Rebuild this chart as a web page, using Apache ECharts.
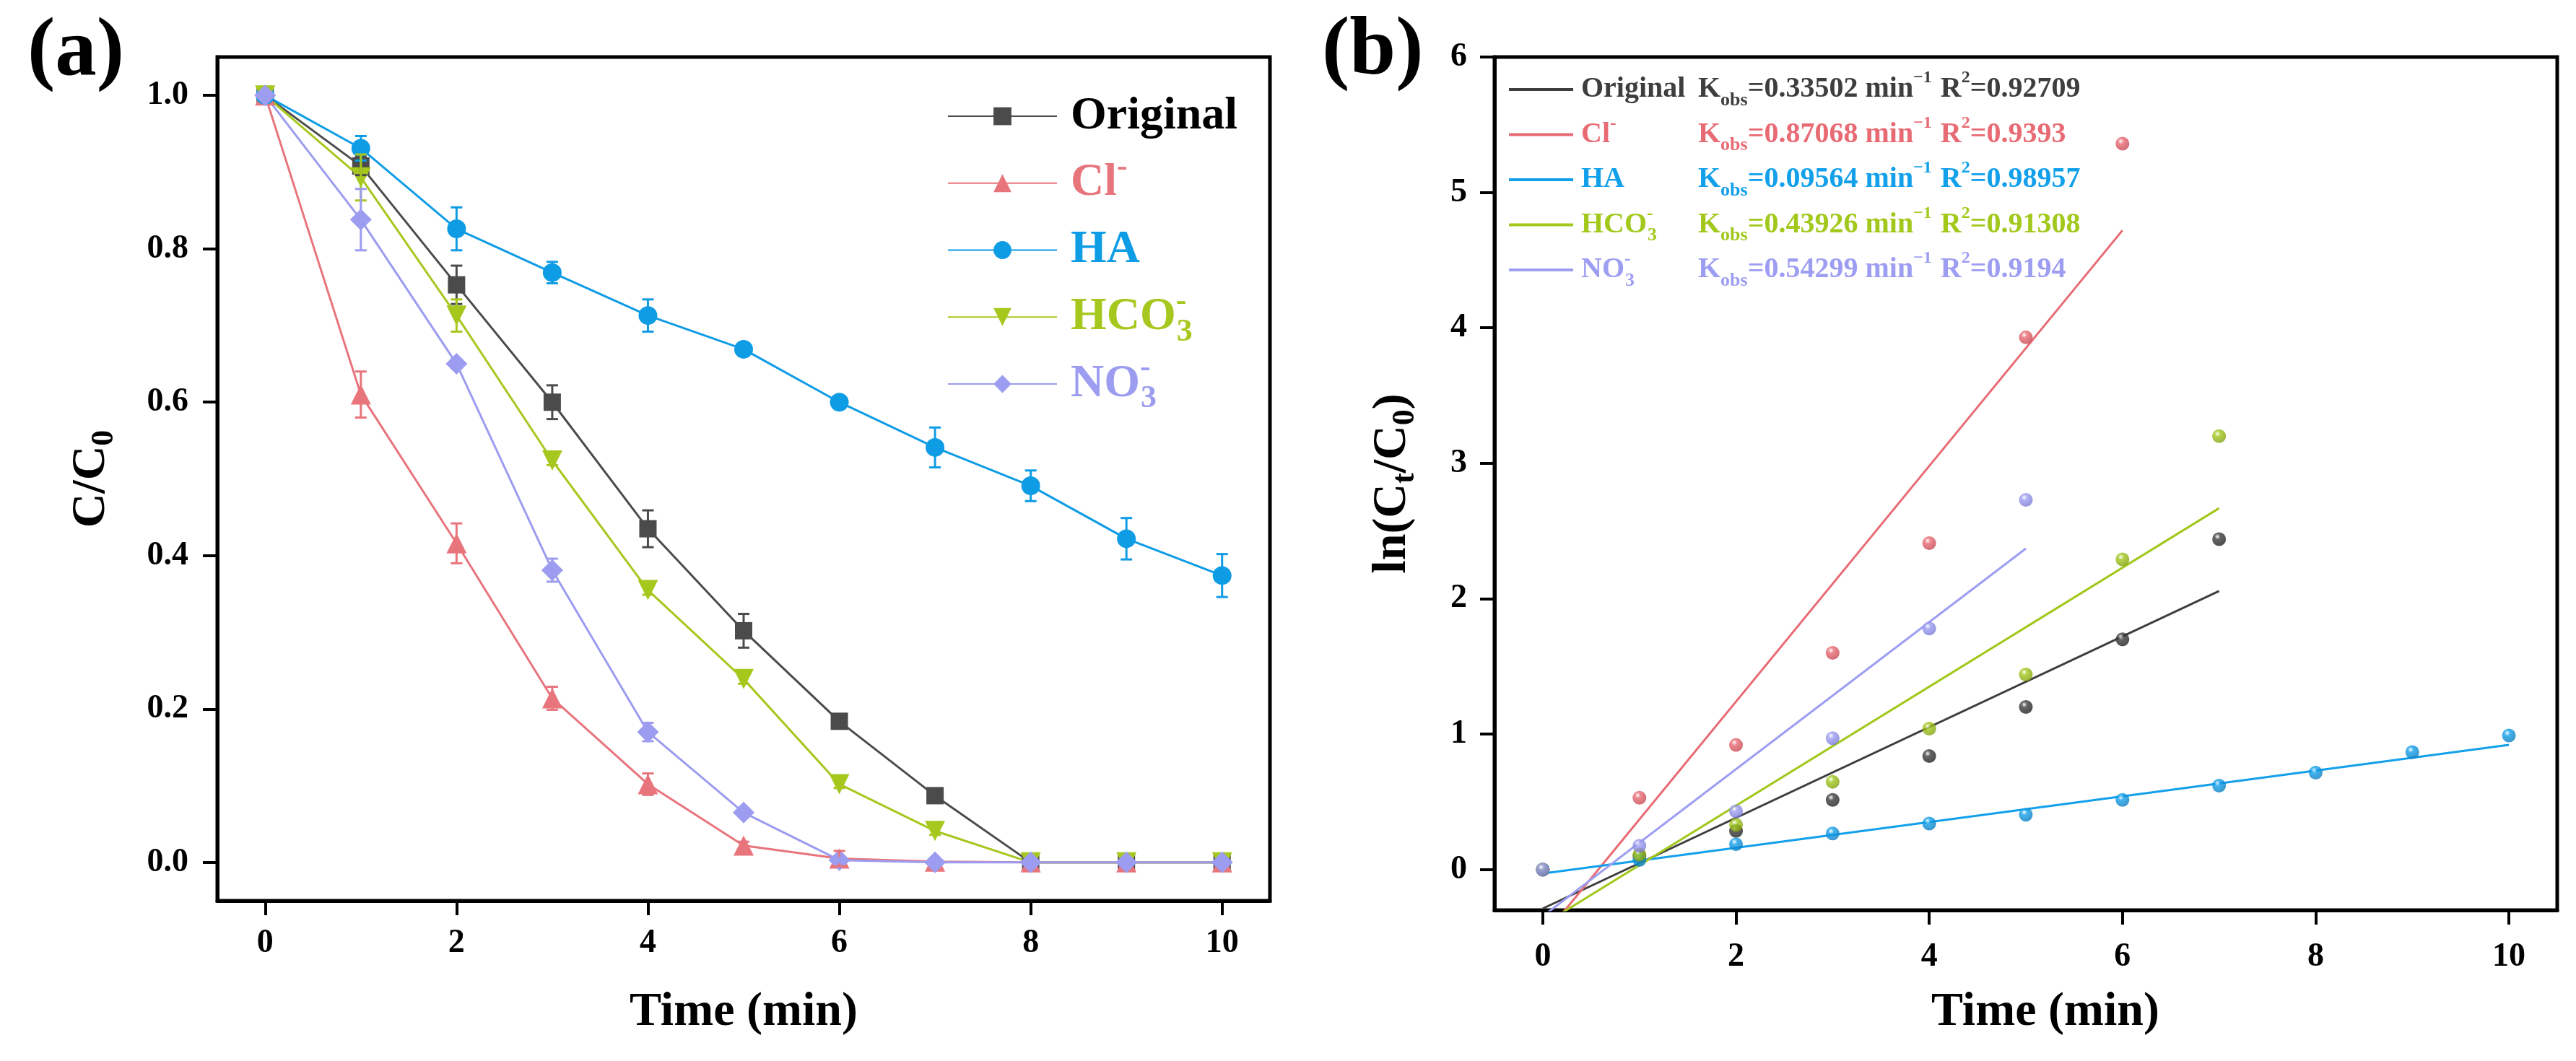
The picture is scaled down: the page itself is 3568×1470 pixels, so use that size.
<!DOCTYPE html>
<html>
<head>
<meta charset="utf-8">
<script src="https://cdn.jsdelivr.net/npm/echarts@6/dist/echarts.min.js"></script>
<style>
html,body{margin:0;padding:0;background:#fff;}
#chart{width:3568px;height:1470px;}
</style>
</head>
<body>
<div id="chart"></div>
<script>
// ---------------- DATA ----------------
// Panel (a): C/C0 vs time
const timeA = [0, 1, 2, 3, 4, 5, 6, 7, 8, 9, 10];
const originalA = [1.0, 0.908, 0.753, 0.600, 0.435, 0.302, 0.184, 0.087, 0, 0, 0];
const originalErr = [0, 0.012, 0.025, 0.022, 0.024, 0.022, 0.006, 0.006, 0, 0, 0];
const clA = [1.0, 0.610, 0.416, 0.214, 0.102, 0.022, 0.005, 0.001, 0, 0, 0];
const clErr = [0, 0.030, 0.026, 0.015, 0.014, 0.005, 0.010, 0, 0, 0, 0];
const haA = [1.0, 0.931, 0.826, 0.769, 0.713, 0.669, 0.600, 0.541, 0.491, 0.422, 0.374];
const haErr = [0, 0.016, 0.028, 0.014, 0.021, 0.005, 0.005, 0.026, 0.020, 0.027, 0.028];
const hco3A = [1.0, 0.893, 0.713, 0.524, 0.355, 0.239, 0.102, 0.041, 0, 0, 0];
const hco3Err = [0, 0.030, 0.021, 0.006, 0.006, 0.006, 0.005, 0.005, 0, 0, 0];
const no3A = [1.0, 0.838, 0.650, 0.381, 0.170, 0.065, 0.003, 0, 0, 0, 0];
const no3Err = [0, 0.040, 0.006, 0.015, 0.012, 0.006, 0.003, 0, 0, 0, 0];

// Panel (b): ln(C0/Ct) points
const timeB = [0, 1, 2, 3, 4, 5, 6, 7, 8, 9, 10];
const originalB = [0, 0.10, 0.285, 0.514, 0.838, 1.20, 1.70, 2.44];
const clB = [0, 0.53, 0.92, 1.60, 2.41, 3.93, 5.36];
const haB = [0, 0.07, 0.187, 0.266, 0.34, 0.405, 0.514, 0.619, 0.715, 0.867, 0.99];
const hco3B = [0, 0.11, 0.33, 0.648, 1.04, 1.44, 2.29, 3.20];
const no3B = [0, 0.176, 0.43, 0.97, 1.78, 2.73];

// Fitted lines: [[xStart, yStart], [xEnd, yEnd]]
const fitOriginal = [[0, -0.288], [7, 2.057]];
const fitCl = [[0, -0.50], [6, 4.72]];
const fitHA = [[0, -0.03], [10, 0.92]];
const fitHCO3 = [[0, -0.407], [7, 2.668]];
const fitNO3 = [[0, -0.345], [5, 2.37]];

// Fit results
const kObs = ['0.33502', '0.87068', '0.09564', '0.43926', '0.54299'];
const r2 = ['0.92709', '0.9393', '0.98957', '0.91308', '0.9194'];

// Ticks
const xTicks = [0, 2, 4, 6, 8, 10];
const yTicksA = [0, 0.2, 0.4, 0.6, 0.8, 1.0];
const yTicksB = [0, 1, 2, 3, 4, 5, 6];

// ---------------- STYLE ----------------
const FONT = "'Liberation Serif','Times New Roman',serif";
const namesA = ['Original', 'Cl-', 'HA', 'HCO3-', 'NO3-'];
const colorsA = ['#4B4B4B', '#E8747C', '#0E9CE5', '#A6C81E', '#9C9CF0'];
const textColorsA = ['#000000', '#E8747C', '#0E9CE5', '#A6C81E', '#9C9CF0'];
const symbolsA = ['rect', 'triangle', 'circle', 'triangle', 'diamond'];
const symbolSizesA = [24, 28, 26, 28, 30];
const rotatesA = [0, 0, 0, 180, 0];
const valsA = [originalA, clA, haA, hco3A, no3A];
const errsA = [originalErr, clErr, haErr, hco3Err, no3Err];

const namesB = ['fitOriginal', 'fitCl', 'fitHA', 'fitHCO3', 'fitNO3'];
const colorsB = ['#3E3E3E', '#E86B74', '#12A0EA', '#A2C81C', '#9D9DF2'];
const darkB = ['#1E1E1E', '#C4434D', '#0A78BA', '#7F9E0C', '#7676D2'];
const ptsB = [originalB, clB, haB, hco3B, no3B];
const fitsB = [fitOriginal, fitCl, fitHA, fitHCO3, fitNO3];

const legendLabelA = {
  'Original': '{p| }{f|Original}',
  'Cl-': '{p| }{f|Cl}{sup|-}',
  'HA': '{p| }{f|HA}',
  'HCO3-': '{p| }{f|HCO}{supz|-}{sub|3}',
  'NO3-': '{p| }{f|NO}{supz|-}{sub|3}'
};
const legendNameB = {
  'fitOriginal': '{p| }{f|Original}',
  'fitCl': '{p| }{f|Cl}{sup|-}',
  'fitHA': '{p| }{f|HA}',
  'fitHCO3': '{p| }{f|HCO}{supz|-}{sub|3}',
  'fitNO3': '{p| }{f|NO}{supz|-}{sub|3}'
};
function legendKText(name) {
  const i = namesB.indexOf(name);
  return '{p| }{m|K}{sub|obs}{m|=' + kObs[i] + ' min}{sup|\u22121}{sp| }{m|R}{sup|2}{m|=' + r2[i] + '}';
}

const chart = echarts.init(document.getElementById('chart'), null, {renderer: 'canvas'});

const axisCommon = {
  type: 'value',
  axisLine: {show: true, onZero: false, lineStyle: {color: '#000', width: 5}},
  axisTick: {show: true, inside: false, length: 20, lineStyle: {color: '#000', width: 4}},
  splitLine: {show: false},
  nameLocation: 'middle'
};
const labelStyle = {fontFamily: FONT, fontSize: 46, fontWeight: 'bold', color: '#000'};
const nameStyle = {
  fontFamily: FONT, fontSize: 66, fontWeight: 'bold', color: '#000',
  rich: {
    m: {fontFamily: FONT, fontSize: 66, fontWeight: 'bold', color: '#000', lineHeight: 80, verticalAlign: 'middle'},
    s: {fontFamily: FONT, fontSize: 44, fontWeight: 'bold', color: '#000', lineHeight: 36, verticalAlign: 'bottom'}
  }
};

const series = [];
// Panel (a) lines
namesA.forEach((n, k) => {
  series.push({
    name: n, type: 'line', xAxisIndex: 0, yAxisIndex: 0,
    data: timeA.map((t, i) => [t, valsA[k][i]]),
    symbol: symbolsA[k], symbolSize: symbolSizesA[k], symbolRotate: rotatesA[k],
    showSymbol: true,
    itemStyle: {color: colorsA[k]},
    lineStyle: {color: colorsA[k], width: 3},
    z: 3
  });
});
// Panel (a) error bars
namesA.forEach((n, k) => {
  const col = colorsA[k];
  series.push({
    name: 'err' + n, type: 'custom', xAxisIndex: 0, yAxisIndex: 0,
    data: timeA.map((t, i) => [t, valsA[k][i] - errsA[k][i], valsA[k][i] + errsA[k][i]]),
    z: 4,
    renderItem: function (params, api) {
      const x = api.value(0), lo = api.value(1), hi = api.value(2);
      if (hi - lo <= 0.0001) return null;
      const p1 = api.coord([x, hi]);
      const p2 = api.coord([x, lo]);
      const w = 8;
      const st = {stroke: col, lineWidth: 3};
      return {
        type: 'group', children: [
          {type: 'line', shape: {x1: p1[0], y1: p1[1], x2: p2[0], y2: p2[1]}, style: st},
          {type: 'line', shape: {x1: p1[0] - w, y1: p1[1], x2: p1[0] + w, y2: p1[1]}, style: st},
          {type: 'line', shape: {x1: p2[0] - w, y1: p2[1], x2: p2[0] + w, y2: p2[1]}, style: st}
        ]
      };
    }
  });
});
// Panel (b) fitted lines
namesB.forEach((n, k) => {
  series.push({
    name: n, type: 'line', xAxisIndex: 1, yAxisIndex: 1,
    data: fitsB[k], showSymbol: false, symbol: 'none', clip: true,
    itemStyle: {color: colorsB[k]},
    lineStyle: {color: colorsB[k], width: 3},
    z: 2
  });
});
// Panel (b) points
namesB.forEach((n, k) => {
  series.push({
    name: 'pts' + n, type: 'scatter', xAxisIndex: 1, yAxisIndex: 1,
    data: ptsB[k].map((v, i) => [timeB[i], v]),
    symbol: 'circle', symbolSize: 19,
    itemStyle: {
      color: new echarts.graphic.RadialGradient(0.38, 0.32, 0.75, [
        {offset: 0, color: '#ffffff'},
        {offset: 0.28, color: colorsB[k]},
        {offset: 1, color: darkB[k]}
      ])
    },
    z: 5
  });
});

const option = {
  animation: false,
  backgroundColor: '#ffffff',
  title: [
    {text: '(a)', left: 33, top: 11, textStyle: {fontFamily: FONT, fontSize: 115, fontWeight: 'bold', color: '#000'}},
    {text: '(b)', left: 1826, top: 10, textStyle: {fontFamily: FONT, fontSize: 115, fontWeight: 'bold', color: '#000'}}
  ],
  grid: [
    {left: 301, top: 79, width: 1458, height: 1169, show: true, borderColor: '#000', borderWidth: 5, backgroundColor: 'transparent'},
    {left: 2070, top: 79, width: 1472, height: 1182, show: true, borderColor: '#000', borderWidth: 5, backgroundColor: 'transparent'}
  ],
  xAxis: [
    Object.assign({}, axisCommon, {
      gridIndex: 0, min: -0.5, max: 10.5,
      name: 'Time (min)', nameGap: 122,
      nameTextStyle: {fontFamily: FONT, fontSize: 66, fontWeight: 'bold', color: '#000'},
      axisTick: Object.assign({}, axisCommon.axisTick, {customValues: xTicks}),
      axisLabel: Object.assign({}, labelStyle, {customValues: xTicks, margin: 36})
    }),
    Object.assign({}, axisCommon, {
      gridIndex: 1, min: -0.5, max: 10.5,
      name: 'Time (min)', nameGap: 109,
      nameTextStyle: {fontFamily: FONT, fontSize: 66, fontWeight: 'bold', color: '#000', padding: [0, 0, 0, 54]},
      axisTick: Object.assign({}, axisCommon.axisTick, {customValues: xTicks}),
      axisLabel: Object.assign({}, labelStyle, {customValues: xTicks, margin: 42})
    })
  ],
  yAxis: [
    Object.assign({}, axisCommon, {
      gridIndex: 0, min: -0.05, max: 1.05,
      name: '{m|C/C}{s|0}', nameGap: 134, nameTextStyle: nameStyle,
      axisTick: Object.assign({}, axisCommon.axisTick, {customValues: yTicksA}),
      axisLabel: Object.assign({}, labelStyle, {customValues: yTicksA, margin: 40, formatter: v => Number(v).toFixed(1)})
    }),
    Object.assign({}, axisCommon, {
      gridIndex: 1, min: -0.3, max: 6,
      name: '{m|ln(C}{s|t}{m|/C}{s|0}{m|)}', nameGap: 101, nameTextStyle: nameStyle,
      axisTick: Object.assign({}, axisCommon.axisTick, {customValues: yTicksB}),
      axisLabel: Object.assign({}, labelStyle, {customValues: yTicksB, margin: 38})
    })
  ],
  legend: [
    {
      data: namesA.map((n, i) => ({name: n, textStyle: {color: textColorsA[i]}})),
      orient: 'vertical', left: 1312, top: 118, padding: 0,
      itemWidth: 151, itemHeight: 31, itemGap: 6.75,
      formatter: n => legendLabelA[n],
      textStyle: {
        fontFamily: FONT, fontSize: 64, fontWeight: 'bold',
        rich: {
          p: {fontFamily: FONT, fontSize: 64, lineHeight: 86, height: 86, width: 14, backgroundColor: 'transparent'},
          f: {fontFamily: FONT, fontSize: 64, fontWeight: 'bold', lineHeight: 86, verticalAlign: 'middle'},
          sup: {fontFamily: FONT, fontSize: 44, fontWeight: 'bold', lineHeight: 36, verticalAlign: 'top'},
          supz: {fontFamily: FONT, fontSize: 44, fontWeight: 'bold', lineHeight: 36, verticalAlign: 'top', width: 1},
          sub: {fontFamily: FONT, fontSize: 44, fontWeight: 'bold', lineHeight: 36, verticalAlign: 'bottom'}
        }
      }
    },
    {
      data: namesB.map((n, i) => ({name: n, textStyle: {color: colorsB[i]}})),
      orient: 'vertical', left: 2090, top: 96, padding: 0,
      icon: 'rect', itemWidth: 89, itemHeight: 4, itemGap: 6.5,
      formatter: n => legendNameB[n],
      textStyle: {
        fontFamily: FONT, fontSize: 40, fontWeight: 'bold',
        rich: {
          p: {fontFamily: FONT, fontSize: 40, lineHeight: 56, height: 56, width: 6, backgroundColor: 'transparent'},
          f: {fontFamily: FONT, fontSize: 40, fontWeight: 'bold', lineHeight: 56, verticalAlign: 'middle'},
          sup: {fontFamily: FONT, fontSize: 26, fontWeight: 'bold', lineHeight: 24, verticalAlign: 'top'},
          supz: {fontFamily: FONT, fontSize: 26, fontWeight: 'bold', lineHeight: 24, verticalAlign: 'top', width: 1},
          sub: {fontFamily: FONT, fontSize: 26, fontWeight: 'bold', lineHeight: 26, verticalAlign: 'bottom'}
        }
      }
    },
    {
      data: namesB.map((n, i) => ({name: n, textStyle: {color: colorsB[i]}})),
      orient: 'vertical', left: 2346, top: 96, padding: 0,
      icon: 'rect', itemWidth: 0, itemHeight: 4, itemGap: 6.5,
      formatter: n => legendKText(n),
      textStyle: {
        fontFamily: FONT, fontSize: 40, fontWeight: 'bold',
        rich: {
          p: {fontFamily: FONT, fontSize: 40, lineHeight: 56, height: 56, width: 1, backgroundColor: 'transparent'},
          m: {fontFamily: FONT, fontSize: 40, fontWeight: 'bold', lineHeight: 56, verticalAlign: 'middle'},
          sp: {fontFamily: FONT, fontSize: 40, lineHeight: 56, width: 12},
          sup: {fontFamily: FONT, fontSize: 24, fontWeight: 'bold', lineHeight: 24, verticalAlign: 'top'},
          sub: {fontFamily: FONT, fontSize: 26, fontWeight: 'bold', lineHeight: 26, verticalAlign: 'bottom'}
        }
      }
    }
  ],
  series: series
};
chart.setOption(option);
</script>
</body>
</html>
